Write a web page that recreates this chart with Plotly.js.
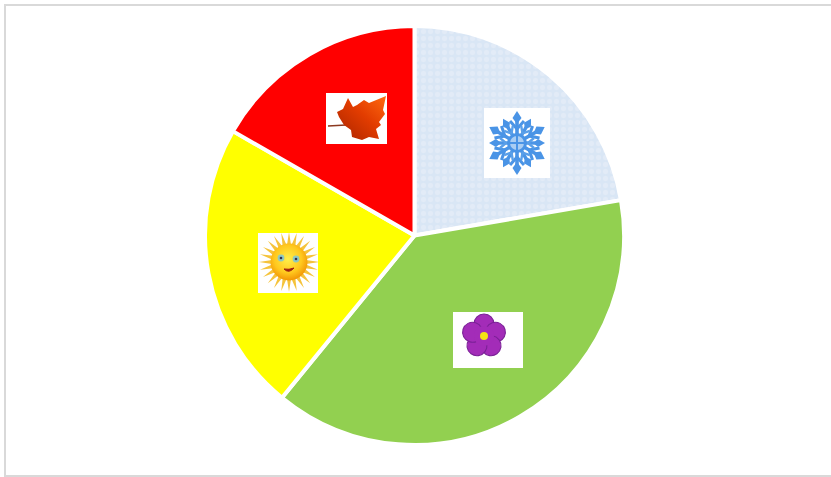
<!DOCTYPE html>
<html>
<head>
<meta charset="utf-8">
<script src="https://cdn.plot.ly/plotly-3.0.1.min.js"></script>
<style>html,body{margin:0;padding:0;background:#fff;overflow:hidden}#c{width:831px;height:477px}</style>
</head>
<body>
<div id="c"></div>
<script>
var seasons = ["Winter", "Spring", "Summer", "Autumn"];
var shares = [22.3, 38.6, 22.4, 16.7];
var colors = ["#dbe7f5", "#92d050", "#ffff00", "#ff0000"];

function rotated(n, inner, step) {
  var s = "";
  for (var i = 0; i < n; i++) s += '<g transform="rotate(' + (i * step) + ')">' + inner + '</g>';
  return s;
}
function svgUri(w, h, body) {
  return "data:image/svg+xml;charset=utf-8," + encodeURIComponent(
    '<svg xmlns="http://www.w3.org/2000/svg" width="' + w + '" height="' + h + '" viewBox="0 0 ' + w + ' ' + h + '">' +
    '<rect width="' + w + '" height="' + h + '" fill="#fff"/>' + body + '</svg>');
}

var snowArm = '<path d="M0 -6V-27" stroke="#4a94e6" stroke-width="3.6"/>' +
  '<path d="M-4.5 -25L0 -32L4.5 -25L0 -19Z" fill="#4a94e6"/>' +
  '<path d="M-7 -22L0 -14L7 -22" fill="none" stroke="#4a94e6" stroke-width="3"/>';
var snowSide = '<path d="M0 -9V-21" stroke="#4a94e6" stroke-width="3.4"/>' +
  '<path d="M-4 -21L0 -28L4 -21L0 -16Z" fill="#4a94e6"/>' +
  '<path d="M-5 -17L0 -11L5 -17" fill="none" stroke="#5a9fe8" stroke-width="2.4"/>';
var snowBody = '<g transform="translate(33 35)">' + rotated(6, snowArm, 60) +
  '<g transform="rotate(30)">' + rotated(6, snowSide, 60) + '</g>' +
  '<circle r="8.5" fill="#a9cdf3" stroke="#4a94e6" stroke-width="3"/><path d="M-8 0H8M0 -8V8" stroke="#4a94e6" stroke-width="2"/></g>';

var leafBody = '<defs><linearGradient id="l" x1="0" y1="1" x2="1" y2="0"><stop offset="0" stop-color="#a82400"/><stop offset="0.55" stop-color="#e23c00"/><stop offset="1" stop-color="#ff6a10"/></linearGradient></defs>' +
  '<path d="M2 33L20 32" stroke="#8c3a20" stroke-width="1.3"/>' +
  '<path d="M11 19L17 16L22 5L27 14L31 12L38 7L43 10L60 3L57 17L59 21L53 29L55 32L50 36L53 46L43 44L36 47L26 44L25 37L18 32L13 24Z" fill="url(#l)"/>';

var sunRay = '<path d="M-2 -17L0 -30L2 -17Z" fill="#f5c33b"/>';
var sunBody = '<defs><radialGradient id="s" cx="0.47" cy="0.42" r="0.62"><stop offset="0" stop-color="#fff04a"/><stop offset="0.6" stop-color="#ffc81e"/><stop offset="1" stop-color="#f08c00"/></radialGradient></defs>' +
  '<g transform="translate(31 29)">' + rotated(24, sunRay, 15) +
  '<circle r="18.5" fill="url(#s)"/>' +
  '<circle cx="-8" cy="-4" r="3.4" fill="#8fc9c0"/><circle cx="7" cy="-3" r="3.4" fill="#8fc9c0"/>' +
  '<circle cx="-8" cy="-4" r="1.3" fill="#335"/><circle cx="7" cy="-3" r="1.3" fill="#335"/>' +
  '<path d="M-5 7Q0 12 5 6Q0 8 -5 7Z" fill="#a02010" stroke="#a02010" stroke-width="1"/></g>';

var petal = '<ellipse cx="0" cy="-12" rx="10" ry="10" fill="#a32cb8" stroke="#7a2096" stroke-width="1.1"/>';
var flowerBody = '<g transform="translate(31 24)">' + rotated(5, petal, 72) +
  '<circle r="10" fill="#a32cb8"/><circle r="4" fill="#f4e414"/></g>';

var W = 831, H = 477, cx = 414.5, cy = 235.5, R = 209.5;
function icon(uri, x0, y0, x1, y1) {
  return {source: uri, xref: "paper", yref: "paper", x: x0 / W, y: 1 - y0 / H,
    sizex: (x1 - x0) / W, sizey: (y1 - y0) / H, xanchor: "left", yanchor: "top",
    sizing: "stretch", layer: "above"};
}

Plotly.newPlot("c", [{
  type: "pie",
  labels: seasons,
  values: shares,
  sort: false,
  direction: "clockwise",
  rotation: 0,
  textinfo: "none",
  hoverinfo: "label+percent",
  showlegend: false,
  domain: {x: [(cx - R) / W, (cx + R) / W], y: [1 - (cy + R) / H, 1 - (cy - R) / H]},
  marker: {
    colors: colors,
    line: {color: "#ffffff", width: 4},
    pattern: {shape: [".", "", "", ""], fgcolor: "#e2ebf7", bgcolor: "#d9e6f5", size: 7, solidity: 0.45, fillmode: "replace"}
  }
}], {
  width: W, height: H,
  margin: {l: 0, r: 0, t: 0, b: 0},
  paper_bgcolor: "#ffffff",
  showlegend: false,
  shapes: [{type: "rect", xref: "paper", yref: "paper", layer: "below",
    x0: 5 / W, x1: 1.02, y0: 1 / H, y1: 1 - 5 / H,
    line: {color: "#d9d9d9", width: 2}, fillcolor: "rgba(0,0,0,0)"}],
  images: [
    icon(svgUri(66, 70, snowBody), 484, 108, 550, 178),
    icon(svgUri(61, 51, leafBody), 326, 93, 387, 144),
    icon(svgUri(60, 60, sunBody), 258, 233, 318, 293),
    icon(svgUri(70, 56, flowerBody), 453, 312, 523, 368)
  ]
}, {displayModeBar: false, staticPlot: true});
</script>
</body>
</html>
